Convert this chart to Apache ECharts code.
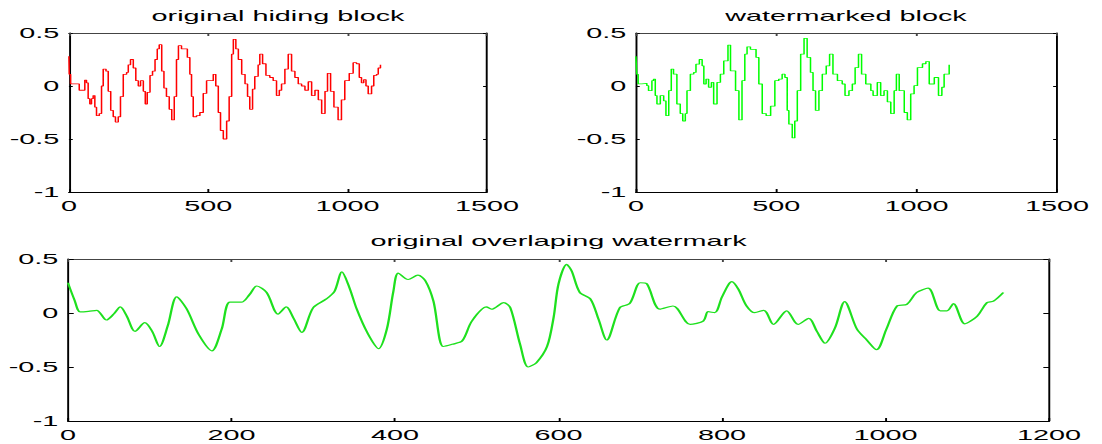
<!DOCTYPE html>
<html>
<head>
<meta charset="utf-8">
<script src="https://cdn.jsdelivr.net/npm/echarts@6/dist/echarts.min.js"></script>
<style>
  html, body { margin: 0; padding: 0; background: #fff; overflow: hidden; }
  /* the reference figure is stretched horizontally, so draw narrow and stretch */
  #main { width: 574px; height: 444px; transform: scaleX(1.92); transform-origin: 0 0; }
</style>
</head>
<body>
<div id="main"></div>
<script>
// original hiding block (red, top left)
const hideX = [0, 1, 6, 28, 37, 49, 57, 63, 69, 75, 81, 87, 93, 99, 109, 117, 123, 133, 141, 150, 159, 167, 177, 185,
  195, 207, 213, 221, 231, 240, 249, 257, 267, 274, 281, 291, 300, 309, 317, 324, 333, 341, 350, 360, 369, 378,
  386, 393, 404, 416, 425, 434, 440, 446, 458, 470, 482, 494, 506, 518, 527, 536, 544, 554, 566, 575, 584, 590,
  599, 608, 620, 632, 641, 649, 659, 667, 679, 685, 695, 707, 721, 733, 745, 755, 763, 775, 787, 799, 811, 823,
  835, 847, 859, 871, 883, 895, 907, 919, 928, 939, 951, 966, 978, 990, 1006, 1020, 1032, 1042, 1050, 1058, 1066,
  1074, 1086, 1094, 1104, 1110, 1118]
const hideY = [0.28, 0.11, 0.02, 0.02, -0.04, -0.04, 0.056, 0.03, -0.12, -0.17, -0.12, -0.09, -0.2, -0.28, -0.26, 0.0,
  0.16, 0.14, -0.05, -0.23, -0.29, -0.34, -0.29, -0.1, 0.11, 0.128, 0.2, 0.25, 0.17, 0.05, 0.0, 0.05, -0.05, -0.17,
  -0.06, 0.1, 0.14, 0.25, 0.35, 0.39, 0.14, -0.02, -0.1, -0.22, -0.32, -0.1, 0.25, 0.38, 0.35, 0.35, 0.27, 0.11,
  -0.1, -0.29, -0.28, -0.25, -0.07, 0.05, 0.05, 0.11, 0.0, -0.25, -0.42, -0.5, -0.33, -0.1, 0.3, 0.44, 0.35, 0.25,
  0.11, 0.02, -0.1, -0.22, -0.03, 0.09, 0.2, 0.3, 0.21, 0.1, 0.08, 0.05, -0.09, -0.04, 0.02, 0.16, 0.3, 0.14, 0.08,
  0.02, 0.0, -0.04, 0.04, -0.09, -0.04, -0.13, -0.26, -0.05, 0.12, -0.05, -0.2, -0.32, -0.13, 0.05, 0.12, 0.22, 0.21,
  0.08, 0.03, 0.06, 0.0, -0.075, 0.0, 0.1, 0.11, 0.17, 0.2]

// watermarked block (green, top right)
const markX = [0, 3, 8, 21, 39, 45, 57, 63, 69, 75, 87, 99, 107, 117, 126, 134, 146, 158, 167, 176, 182, 194, 206, 214,
  226, 236, 242, 250, 259, 269, 277, 289, 301, 313, 328, 337, 355, 367, 378, 388, 396, 408, 420, 428, 438, 450,
  464, 480, 495, 509, 521, 531, 539, 545, 557, 566, 575, 587, 599, 610, 622, 631, 640, 652, 664, 678, 690, 702,
  718, 735, 745, 759, 771, 781, 793, 804, 819, 837, 845, 860, 872, 884, 896, 908, 920, 928, 938, 956, 967, 979,
  991, 1003, 1021, 1033, 1045, 1063, 1078, 1090, 1098, 1116]
const markY = [0.28, 0.11, 0.02, 0.025, 0.003, -0.044, 0.05, 0.065, -0.09, -0.17, -0.09, -0.14, -0.28, -0.044, 0.16,
  0.112, -0.17, -0.26, -0.33, -0.26, -0.044, 0.112, 0.128, 0.206, 0.25, 0.19, 0.019, 0.065, -0.012, 0.034, -0.17,
  0.034, 0.112, 0.237, 0.386, 0.143, -0.044, -0.32, 0.05, 0.3, 0.37, 0.346, 0.346, 0.27, 0.019, -0.26, -0.28, -0.19,
  0.05, 0.065, 0.112, 0.08, -0.23, -0.36, -0.49, -0.33, -0.044, 0.3, 0.45, 0.27, 0.128, -0.044, -0.23, -0.044, 0.112,
  0.19, 0.3, 0.112, 0.05, 0.019, -0.09, -0.044, 0.019, 0.174, 0.3, 0.112, 0.019, -0.044, -0.09, 0.034, -0.09, -0.044,
  -0.15, -0.26, -0.044, 0.112, -0.044, -0.25, -0.32, -0.075, 0.003, 0.174, 0.21, 0.23, 0.019, 0.08, -0.09, -0.012,
  0.112, 0.2]

// original overlaping watermark (bottom)
const waveX = [0, 8, 15, 25, 35, 47, 56, 64, 72, 82, 94, 103, 112, 122, 133, 145, 160, 176, 188, 198, 212, 222, 231,
  243, 257, 267, 276, 286, 300, 316, 326, 335, 344, 353, 366, 380, 390, 398, 404, 416, 428, 437, 447, 459, 470, 482,
  494, 512, 518, 533, 541, 553, 563, 573, 586, 594, 600, 610, 616, 626, 639, 649, 659, 675, 687, 700, 708, 724, 740,
  761, 777, 783, 791, 800, 812, 820, 830, 840, 851, 863, 879, 893, 906, 916, 926, 938, 950, 965, 977, 989, 1001,
  1014, 1026, 1038, 1052, 1067, 1075, 1083, 1097, 1112, 1124, 1132, 1144]
const waveY = [0.28, 0.12, 0.01, 0.015, 0.025, -0.065, -0.01, 0.056, -0.03, -0.17, -0.09, -0.17, -0.31, -0.12, 0.15,
  0.04, -0.2, -0.35, -0.15, 0.1, 0.1, 0.17, 0.25, 0.19, -0.01, 0.056, -0.05, -0.18, 0.05, 0.13, 0.2, 0.38, 0.24, 0.04,
  -0.18, -0.33, -0.15, 0.2, 0.37, 0.31, 0.35, 0.3, 0.11, -0.31, -0.29, -0.26, -0.075, 0.056, 0.035, 0.096, 0.05,
  -0.29, -0.5, -0.46, -0.31, -0.04, 0.27, 0.45, 0.39, 0.19, 0.13, -0.06, -0.25, 0.05, 0.087, 0.28, 0.27, 0.035, 0.065,
  -0.105, -0.075, 0.012, 0.003, 0.15, 0.29, 0.22, 0.065, 0.003, 0.025, -0.105, 0.02, -0.105, -0.05, -0.17, -0.28,
  -0.14, 0.106, -0.15, -0.25, -0.34, -0.15, 0.065, 0.08, 0.19, 0.23, 0.02, 0.02, 0.087, -0.1, -0.03, 0.096, 0.11, 0.19]

const yTicks = { min: -1, max: 0.5, interval: 0.5 }
const topTicks = { min: 0, max: 1500, interval: 500 }
const bottomTicks = { min: 0, max: 1200, interval: 200 }

const font = { fontFamily: 'Liberation Sans, Arial, sans-serif', fontSize: 15, color: '#000' }

function pairs(xs, ys) {
  return xs.map((x, i) => [x, ys[i]])
}

// plain numbers, no thousands separator
function plain(v) {
  return String(v)
}

// one box: x axis at bottom + top, y axis at left + right, ticks inside
function boxAxes(gridIndex, xr, yTick) {
  const xs = [
    {
      type: 'value', gridIndex, position: 'bottom', ...xr,
      axisLine: { onZero: false, lineStyle: { color: '#000', width: 1 } },
      axisTick: { inside: true, length: 3, lineStyle: { color: '#000' } },
      axisLabel: { ...font, margin: 6, formatter: plain },
      splitLine: { show: false },
    },
    {
      type: 'value', gridIndex, position: 'top', ...xr,
      axisLine: { onZero: false, lineStyle: { color: '#444', width: 1 } },
      axisTick: { inside: true, length: 3, lineStyle: { color: '#444' } },
      axisLabel: { show: false },
      splitLine: { show: false },
    },
  ]
  const ys = [
    {
      type: 'value', gridIndex, position: 'left', ...yTicks,
      axisLine: { show: true, onZero: false, lineStyle: { color: '#000', width: 1 } },
      axisTick: { show: true, inside: true, length: yTick, lineStyle: { color: '#000' } },
      axisLabel: { ...font, margin: 5, formatter: plain },
      splitLine: { show: false },
    },
    {
      type: 'value', gridIndex, position: 'right', ...yTicks,
      axisLine: { show: true, onZero: false, lineStyle: { color: '#000', width: 1 } },
      axisTick: { show: true, inside: true, length: yTick, lineStyle: { color: '#000' } },
      axisLabel: { show: false },
      splitLine: { show: false },
    },
  ]
  return { xs, ys }
}

const a0 = boxAxes(0, topTicks, 2)
const a1 = boxAxes(1, topTicks, 2)
const a2 = boxAxes(2, bottomTicks, 3)

const titleStyle = { fontFamily: font.fontFamily, fontSize: 15, fontWeight: 'normal', color: '#000' }

const option = {
  animation: false,
  backgroundColor: '#fff',
  title: [
    { text: 'original hiding block', left: 144.8, top: 8, textAlign: 'center', padding: 0, textStyle: titleStyle },
    { text: 'watermarked block', left: 440.6, top: 8, textAlign: 'center', padding: 0, textStyle: titleStyle },
    { text: 'original overlaping watermark', left: 290.9, top: 233, textAlign: 'center', padding: 0, textStyle: titleStyle },
  ],
  grid: [
    { left: 35.9, top: 33, width: 217.7, height: 159 },
    { left: 331.2, top: 33, width: 219.3, height: 159 },
    { left: 35.4, top: 259, width: 511, height: 162 },
  ],
  xAxis: [...a0.xs, ...a1.xs, ...a2.xs],
  yAxis: [...a0.ys, ...a1.ys, ...a2.ys],
  series: [
    {
      name: 'original hiding block',
      type: 'line',
      xAxisIndex: 0,
      yAxisIndex: 0,
      step: 'end',
      showSymbol: false,
      lineStyle: { color: '#ff0000', width: 0.8 },
      data: pairs(hideX, hideY),
    },
    {
      name: 'watermarked block',
      type: 'line',
      xAxisIndex: 2,
      yAxisIndex: 2,
      step: 'end',
      showSymbol: false,
      lineStyle: { color: '#00ff00', width: 0.8 },
      data: pairs(markX, markY),
    },
    {
      name: 'original overlaping watermark',
      type: 'line',
      xAxisIndex: 4,
      yAxisIndex: 4,
      smooth: 0.3,
      showSymbol: false,
      lineStyle: { color: '#1ee01e', width: 1.2 },
      data: pairs(waveX, waveY),
    },
  ],
}

var myChart = echarts.init(document.getElementById('main'), null, { renderer: 'svg' })
myChart.setOption(option)
</script>
</body>
</html>
